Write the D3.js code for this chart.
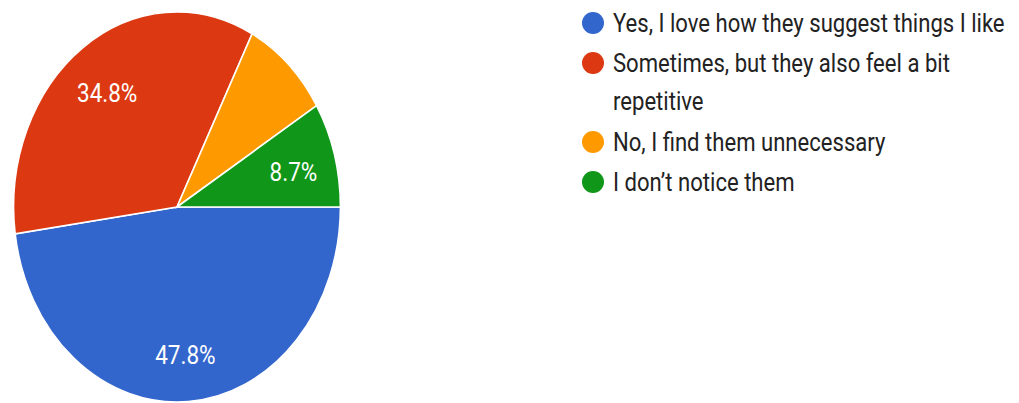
<!DOCTYPE html>
<html>
<head>
<meta charset="utf-8">
<script src="https://cdn.jsdelivr.net/npm/d3@7"></script>
<style>
  html, body { margin: 0; padding: 0; background: #fff; }
  svg { display: block; font-family: Roboto, "Noto Sans", sans-serif; }
</style>
</head>
<body>
<svg id="chart" width="1019" height="403"></svg>
<script>
// Survey answers and their share of responses
const categories = [
  "Yes, I love how they suggest things I like",
  "Sometimes, but they also feel a bit repetitive",
  "No, I find them unnecessary",
  "I don’t notice them"
];
const legendLines = [
  ["Yes, I love how they suggest things I like"],
  ["Sometimes, but they also feel a bit", "repetitive"],
  ["No, I find them unnecessary"],
  ["I don’t notice them"]
];
const values = [47.8, 34.8, 8.7, 8.7];
const colors = ["#3366cc", "#dc3912", "#ff9900", "#109618"];

const cx = 177, cy = 207;
const radius = 195;
const squeeze = 0.838;   // pie is drawn narrower than tall

const svg = d3.select("#chart");

const pie = d3.pie()
  .sort(null)
  .value(d => d)
  .startAngle(Math.PI / 2)
  .endAngle(Math.PI / 2 + 2 * Math.PI);
const arcs = pie(values);

const arc = d3.arc().innerRadius(0).outerRadius(radius);
const labelArc = d3.arc().innerRadius(radius * 0.74).outerRadius(radius * 0.74);

const color = d3.scaleOrdinal().domain(categories).range(colors);

const pieG = svg.append("g")
  .attr("transform", `translate(${cx},${cy}) scale(${squeeze},1)`);

pieG.selectAll("path")
  .data(arcs)
  .join("path")
  .attr("d", arc)
  .attr("fill", (d, i) => color(categories[i]))
  .attr("stroke", "#fff")
  .attr("stroke-width", 1.6)
  .attr("vector-effect", "non-scaling-stroke");

// Percentage labels inside slices (the orange one carries no label)
svg.append("g")
  .selectAll("text")
  .data(arcs.filter((d, i) => i !== 2))
  .join("text")
  .attr("transform", d => {
    const c = labelArc.centroid(d);
    return `translate(${cx + c[0] * squeeze},${cy + c[1]}) scale(0.9,1)`;
  })
  .attr("text-anchor", "middle")
  .attr("dy", "0.52em")
  .attr("fill", "#fff")
  .attr("font-size", 25)
  .text(d => d.data.toFixed(1) + "%");

// Legend
const rowY = [23, 63, 142, 182];
const lineGap = 38;
const legend = svg.append("g");
const rows = legend.selectAll("g")
  .data(categories)
  .join("g")
  .attr("transform", (d, i) => `translate(593,${rowY[i]})`);

rows.append("circle")
  .attr("r", 11)
  .attr("fill", d => color(d));

rows.append("text")
  .attr("transform", "translate(20,0) scale(0.884,1)")
  .attr("fill", "#222")
  .attr("font-size", 25)
  .selectAll("tspan")
  .data((d, i) => legendLines[i])
  .join("tspan")
  .attr("x", 0)
  .attr("y", (d, j) => j * lineGap)
  .attr("dy", "0.36em")
  .text(d => d);
</script>
</body>
</html>
